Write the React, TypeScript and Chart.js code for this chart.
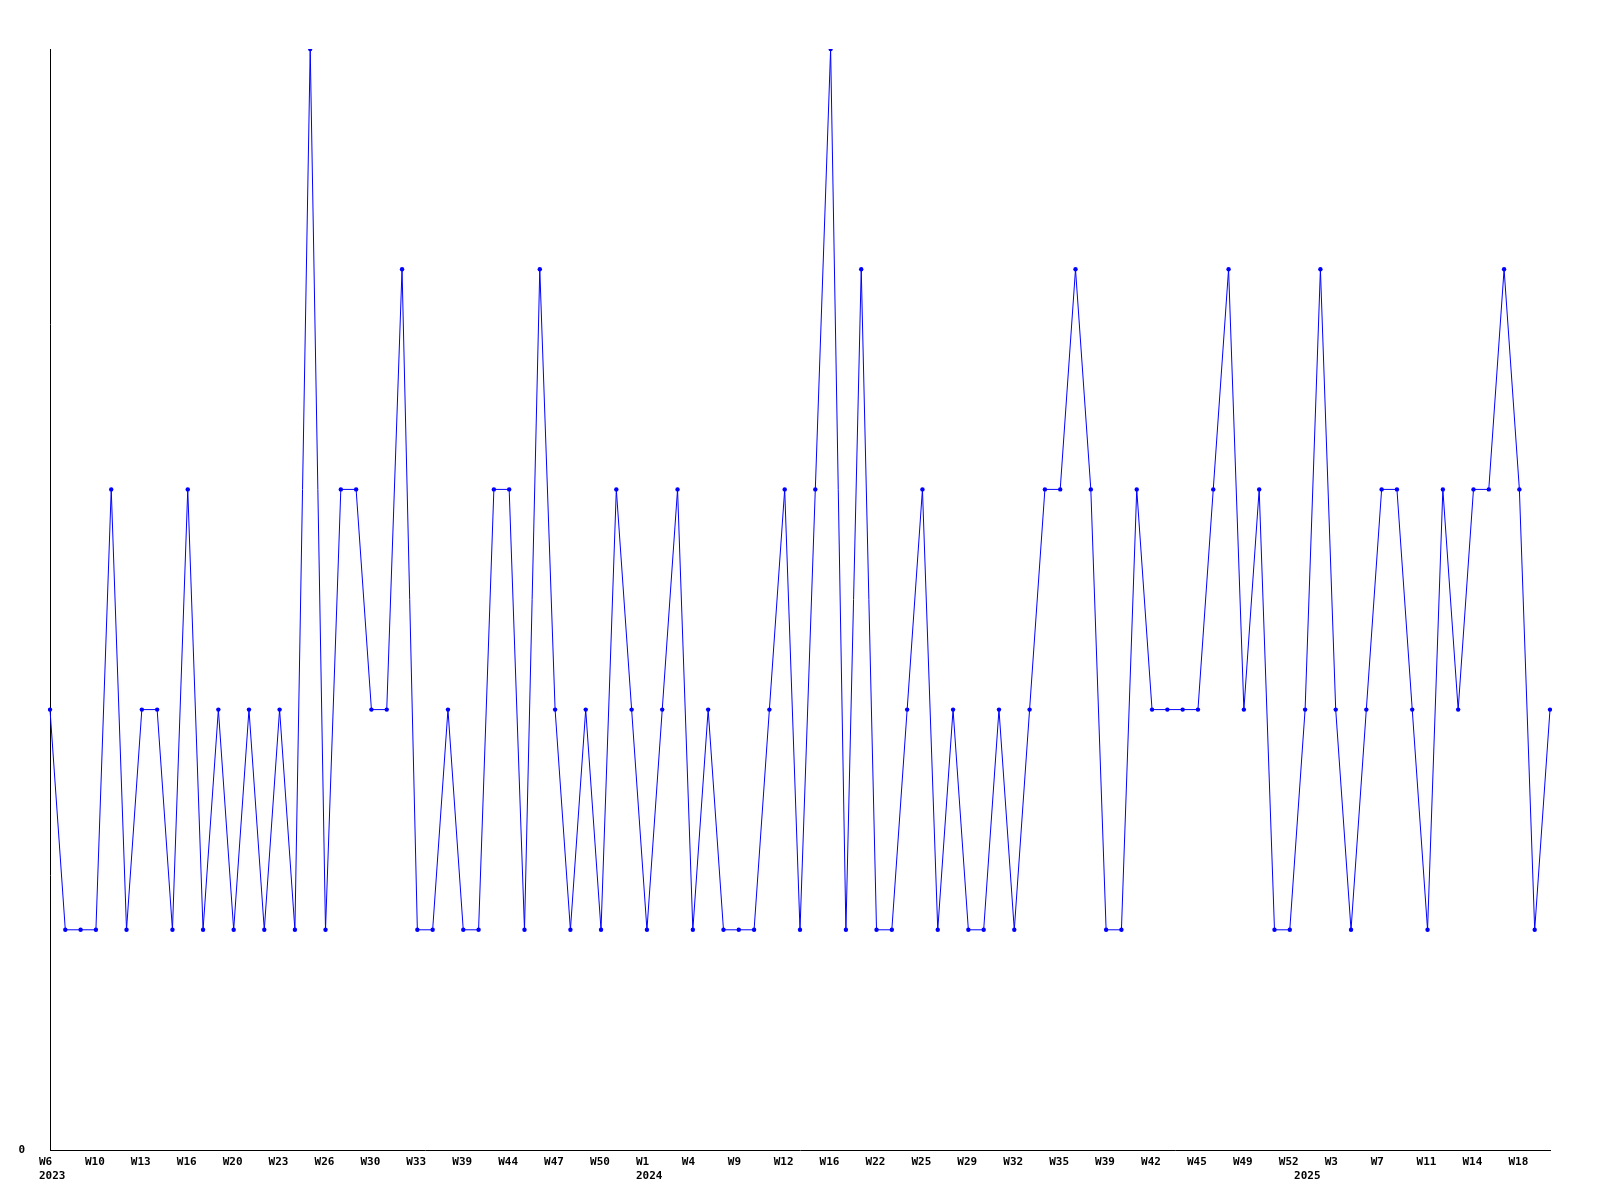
import React, { useEffect, useRef } from "react";
import { Chart, registerables } from "chart.js";

Chart.register(...registerables);

const weekLabels: string[] = [
  "W6", "W7", "W9", "W10", "W11", "W12", "W13", "W14", "W15", "W16",
  "W17", "W19", "W20", "W21", "W22", "W23", "W24", "W25", "W26", "W27",
  "W28", "W30", "W31", "W32", "W33", "W35", "W37", "W39", "W41", "W42",
  "W44", "W45", "W46", "W47", "W48", "W49", "W50", "W51", "W52", "W1",
  "W2", "W3", "W4", "W6", "W8", "W9", "W10", "W11", "W12", "W14",
  "W15", "W16", "W18", "W20", "W22", "W23", "W24", "W25", "W27", "W28",
  "W29", "W30", "W31", "W32", "W33", "W34", "W35", "W37", "W38", "W39",
  "W40", "W41", "W42", "W43", "W44", "W45", "W46", "W48", "W49", "W50",
  "W51", "W52", "W1", "W2", "W3", "W5", "W6", "W7", "W8", "W10",
  "W11", "W12", "W13", "W14", "W16", "W17", "W18", "W19", "W20",
];

const yearStartIndex: number[] = [0, 39, 82];
const yearNames: string[] = ["2023", "2024", "2025"];

const counts: number[] = [
  2, 1, 1, 1, 3, 1, 2, 2, 1, 3,
  1, 2, 1, 2, 1, 2, 1, 5, 1, 3,
  3, 2, 2, 4, 1, 1, 2, 1, 1, 3,
  3, 1, 4, 2, 1, 2, 1, 3, 2, 1,
  2, 3, 1, 2, 1, 1, 1, 2, 3, 1,
  3, 5, 1, 4, 1, 1, 2, 3, 1, 2,
  1, 1, 2, 1, 2, 3, 3, 4, 3, 1,
  1, 3, 2, 2, 2, 2, 3, 4, 2, 3,
  1, 1, 2, 4, 2, 1, 2, 3, 3, 2,
  1, 3, 2, 3, 3, 4, 3, 1, 2,
];

const labelEvery = 3;

export default function App() {
  const canvasRef = useRef<HTMLCanvasElement | null>(null);

  useEffect(() => {
    const canvas = canvasRef.current;
    if (!canvas) return;
    const font = { family: "'DejaVu Sans Mono', monospace", size: 11, weight: "bold" as const };
    const chart = new Chart(canvas, {
      type: "line",
      data: {
        labels: weekLabels,
        datasets: [
          {
            data: counts,
            borderColor: "#0000ff",
            backgroundColor: "#0000ff",
            borderWidth: 1,
            pointRadius: 2.2,
            pointHoverRadius: 2.2,
            pointStyle: "circle",
            pointBorderWidth: 0,
            tension: 0,
            fill: false,
          },
        ],
      },
      options: {
        animation: false,
        responsive: true,
        maintainAspectRatio: false,
        layout: { padding: { top: 49, right: 50, left: 0, bottom: 0 } },
        plugins: { legend: { display: false }, tooltip: { enabled: false }, title: { display: false } },
        scales: {
          x: {
            type: "category",
            offset: false,
            grid: { display: false, drawTicks: false },
            border: { display: true, color: "#000000", width: 1 },
            ticks: {
              autoSkip: false,
              maxRotation: 0,
              minRotation: 0,
              padding: 6,
              align: "start",
              labelOffset: -11,
              color: "#000000",
              font,
              callback: function (this: any, value: any, index: number) {
                const w = index % labelEvery === 0 ? weekLabels[index] : "";
                const yi = yearStartIndex.indexOf(index);
                if (yi >= 0) return [w, yearNames[yi]];
                return w === "" ? null : w;
              },
            },
            afterFit: (scale: any) => {
              scale.height = 50;
            },
          },
          y: {
            min: 0,
            max: 5,
            grid: { display: false, drawTicks: false },
            border: { display: true, color: "#000000", width: 1 },
            ticks: {
              stepSize: 1,
              padding: 25,
              color: "#000000",
              font,
              callback: (value: any) => (Number(value) === 0 ? "0" : null),
            },
            afterFit: (scale: any) => {
              scale.width = 50;
            },
          },
        },
      },
    });
    return () => chart.destroy();
  }, []);

  return (
    <div style={{ position: "fixed", left: 0, top: 0, width: 1600, height: 1200, background: "#ffffff" }}>
      <canvas ref={canvasRef} />
    </div>
  );
}
